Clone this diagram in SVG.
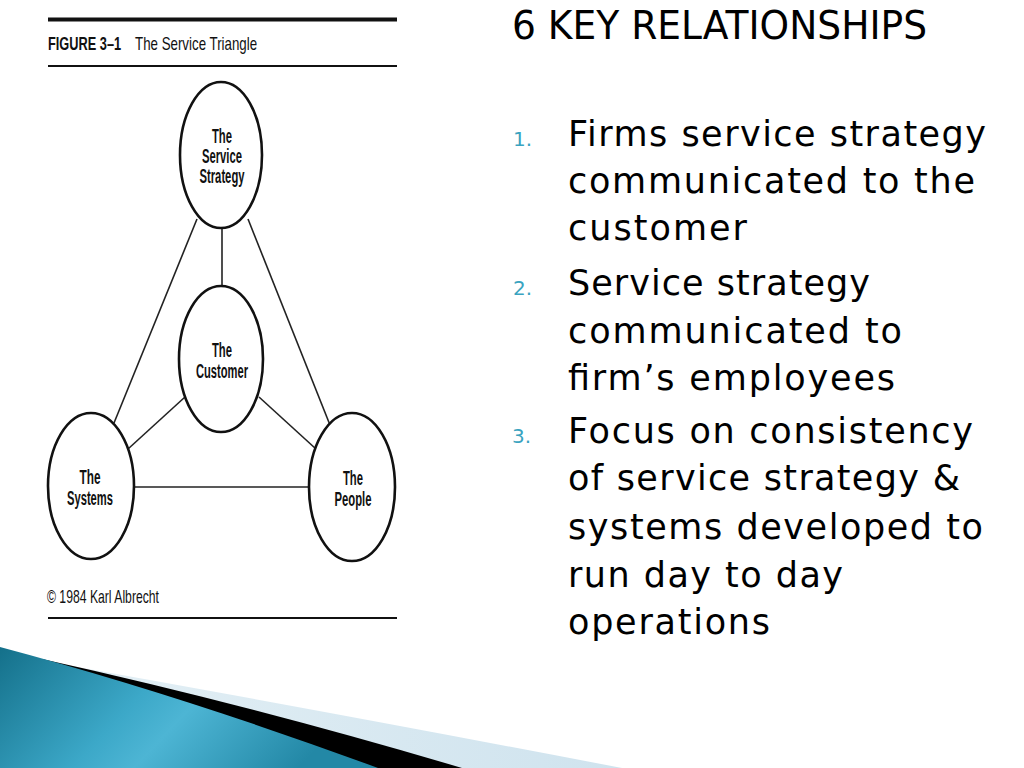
<svg xmlns="http://www.w3.org/2000/svg" width="1024" height="768" viewBox="0 0 1024 768">
<defs>
<style>
.fig{font-family:"Liberation Sans",Arial,sans-serif;fill:#111}
.nd{font-family:"Liberation Sans",Arial,sans-serif;font-weight:bold;font-size:20px;fill:#111;text-anchor:middle}
.node ellipse{fill:#fff;stroke:#111;stroke-width:2.6}
.conn line{stroke:#222;stroke-width:1.6}
.rule{stroke:#111}
.body{font-family:"DejaVu Sans","Open Sans",sans-serif;font-size:35px;fill:#000}
.num{font-family:"DejaVu Sans","Open Sans",sans-serif;font-size:20px;fill:#3AA3C0}
</style>
<linearGradient id="teal" x1="0" y1="0" x2="1" y2="0.3">
<stop offset="0" stop-color="#14708A"/>
<stop offset="0.45" stop-color="#3CA8C8"/>
<stop offset="0.6" stop-color="#4DB5D4"/>
<stop offset="1" stop-color="#2388A6"/>
</linearGradient>
<linearGradient id="light" x1="0" y1="0" x2="1" y2="0">
<stop offset="0" stop-color="#E6F1F6"/>
<stop offset="1" stop-color="#CFE3EE"/>
</linearGradient>
</defs>
<rect width="1024" height="768" fill="#fff"/>

<!-- decorative swoosh -->
<g id="swoosh">
<path d="M55,663 Q330,712 622,768 L0,768 Z" fill="url(#light)"/>
<path d="M42,659 Q250,705 462,768 L0,768 Z" fill="#000"/>
<path d="M0,647 Q180,695 378,768 L0,768 Z" fill="url(#teal)"/>
</g>

<!-- figure header/footer -->
<line class="rule" x1="48" y1="19.5" x2="397" y2="19.5" stroke-width="4"/>
<text class="fig" transform="translate(48,50) scale(0.71,1)" font-size="18" font-weight="bold">FIGURE 3–1</text>
<text class="fig" transform="translate(135,50) scale(0.74,1)" font-size="18">The Service Triangle</text>
<line class="rule" x1="48" y1="66" x2="397" y2="66" stroke-width="2"/>
<text class="fig" x="47" y="603" font-size="19" textLength="112" lengthAdjust="spacingAndGlyphs">© 1984 Karl Albrecht</text>
<line class="rule" x1="48" y1="618" x2="397" y2="618" stroke-width="2.2"/>

<!-- connectors -->
<g id="connectors" class="conn">
<line x1="222" y1="228" x2="222" y2="286"/>
<line x1="197" y1="219" x2="114" y2="423"/>
<line x1="248" y1="219" x2="330" y2="425"/>
<line x1="185" y1="397" x2="128" y2="449"/>
<line x1="259" y1="397" x2="316" y2="449"/>
<line x1="134" y1="487" x2="309" y2="487"/>
</g>

<g id="node-strategy" class="node">
<ellipse cx="221" cy="155" rx="41" ry="73"/>
<text class="nd" x="222" y="143" textLength="20" lengthAdjust="spacingAndGlyphs">The</text>
<text class="nd" x="222" y="163" textLength="40" lengthAdjust="spacingAndGlyphs">Service</text>
<text class="nd" x="222" y="183" textLength="45" lengthAdjust="spacingAndGlyphs">Strategy</text>
</g>
<g id="node-customer" class="node">
<ellipse cx="221" cy="359" rx="42" ry="73"/>
<text class="nd" x="222" y="357" textLength="20" lengthAdjust="spacingAndGlyphs">The</text>
<text class="nd" x="222" y="378" textLength="52" lengthAdjust="spacingAndGlyphs">Customer</text>
</g>
<g id="node-systems" class="node">
<ellipse cx="91" cy="486" rx="43" ry="73"/>
<text class="nd" x="90" y="484" textLength="21" lengthAdjust="spacingAndGlyphs">The</text>
<text class="nd" x="90" y="505" textLength="46" lengthAdjust="spacingAndGlyphs">Systems</text>
</g>
<g id="node-people" class="node">
<ellipse cx="352" cy="487" rx="43" ry="74"/>
<text class="nd" x="353" y="485" textLength="20" lengthAdjust="spacingAndGlyphs">The</text>
<text class="nd" x="353" y="506" textLength="37" lengthAdjust="spacingAndGlyphs">People</text>
</g>

<!-- right text -->
<text x="512" y="39" font-family="'DejaVu Sans','Open Sans',sans-serif" font-size="39" fill="#000" textLength="415" lengthAdjust="spacingAndGlyphs">6 KEY RELATIONSHIPS</text>

<text class="num" x="513" y="146">1.</text>
<text class="body" x="568" y="146" textLength="418" lengthAdjust="spacing">Firms service strategy</text>
<text class="body" x="568" y="193" textLength="407" lengthAdjust="spacing">communicated to the</text>
<text class="body" x="568" y="240" textLength="179" lengthAdjust="spacing">customer</text>
<text class="num" x="513" y="295">2.</text>
<text class="body" x="568" y="295" textLength="302" lengthAdjust="spacing">Service strategy</text>
<text class="body" x="568" y="343" textLength="334" lengthAdjust="spacing">communicated to</text>
<text class="body" x="568" y="390" textLength="327" lengthAdjust="spacing">firm’s employees</text>
<text class="num" x="512" y="443">3.</text>
<text class="body" x="568" y="443" textLength="405" lengthAdjust="spacing">Focus on consistency</text>
<text class="body" x="568" y="490" textLength="392" lengthAdjust="spacing">of service strategy &amp;</text>
<text class="body" x="568" y="539" textLength="415" lengthAdjust="spacing">systems developed to</text>
<text class="body" x="568" y="587" textLength="275" lengthAdjust="spacing">run day to day</text>
<text class="body" x="568" y="634" textLength="202" lengthAdjust="spacing">operations</text>
</svg>
